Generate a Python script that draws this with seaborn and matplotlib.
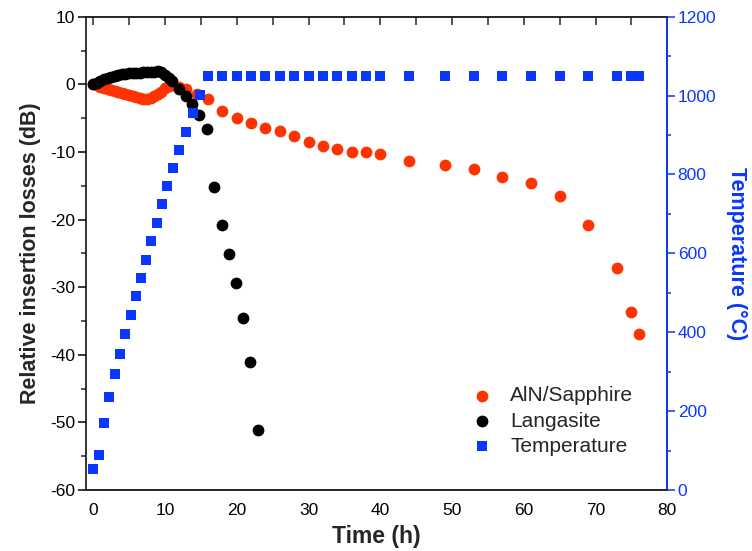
import numpy as np
import pandas as pd
import matplotlib
matplotlib.use('Agg')
import matplotlib.pyplot as plt
import seaborn as sns

# ---- data ----
aln_time = [0, 0.5, 1, 1.5, 2, 2.5, 3, 3.5, 4, 4.5, 5, 5.5, 6, 6.5, 7, 7.5,
            8, 8.5, 9, 9.5, 10, 10.5, 11, 12, 13, 14.4, 16, 18, 20, 22, 24,
            26, 28, 30, 32, 34, 36, 38, 40, 44, 49, 53, 57, 61, 65, 69, 73,
            75, 76]
aln_loss = [0, -0.15, -0.35, -0.55, -0.7, -0.85, -1.0, -1.1, -1.3, -1.45,
            -1.65, -1.8, -1.95, -2.05, -2.15, -2.2, -2.0, -1.75, -1.5, -1.1,
            -0.6, -0.2, -0.1, -0.45, -0.75, -1.45, -2.2, -3.95, -4.95, -5.75,
            -6.45, -6.95, -7.65, -8.5, -9.15, -9.6, -9.95, -10.05, -10.25,
            -11.35, -11.9, -12.5, -13.7, -14.55, -16.45, -20.8, -27.2, -33.7,
            -36.95]

lgs_time = [0, 0.5, 1, 1.5, 2, 2.5, 3, 3.5, 4, 4.5, 5, 5.5, 6, 6.5, 7, 7.5,
            8, 8.5, 9, 9.5, 10, 10.5, 11, 12, 12.9, 13.8, 14.8, 15.8, 16.9,
            17.9, 18.9, 19.9, 20.9, 21.9, 22.9]
lgs_loss = [0, 0.25, 0.5, 0.8, 1.0, 1.15, 1.3, 1.4, 1.5, 1.55, 1.6, 1.65,
            1.65, 1.7, 1.75, 1.75, 1.8, 1.85, 1.9, 1.75, 1.4, 1.0, 0.5, -0.7,
            -1.8, -2.95, -4.5, -6.6, -15.2, -20.8, -25.1, -29.4, -34.5, -41.0,
            -51.1]

temp_time = [0, 0.75, 1.5, 2.25, 3, 3.7, 4.5, 5.2, 5.9, 6.65, 7.4, 8.1, 8.85,
             9.6, 10.3, 11.1, 12, 12.9, 13.95, 14.9, 16, 18, 20, 22, 24, 26,
             28, 30, 32, 34, 36, 38, 40, 44, 49, 53, 57, 61, 65, 69, 73, 75,
             76]
temp_c = [54, 90, 171, 237, 293, 344, 395, 444, 491, 538, 584, 631, 678, 724,
          770, 817, 862, 908, 955, 1001, 1050, 1050, 1050, 1050, 1050, 1050,
          1050, 1050, 1050, 1050, 1050, 1050, 1050, 1050, 1050, 1050, 1050,
          1050, 1050, 1050, 1050, 1050, 1050]

RED = '#FF3300'
BLUE = '#0A37FF'

sns.set_style('white')
plt.rcParams['font.family'] = ['Liberation Sans', 'DejaVu Sans']
plt.rcParams['axes.linewidth'] = 1.1
plt.rcParams['axes.unicode_minus'] = False

aln_df = pd.DataFrame({'t': aln_time, 'v': aln_loss})
lgs_df = pd.DataFrame({'t': lgs_time, 'v': lgs_loss})
temp_df = pd.DataFrame({'t': temp_time, 'v': temp_c})

fig = plt.figure(figsize=(7.52, 5.51), dpi=100)
ax = fig.add_axes([0.1144, 0.1107, 0.7730, 0.8590])

sns.scatterplot(data=aln_df, x='t', y='v', ax=ax, color=RED, s=72,
                linewidth=0, marker='o', label='AlN/Sapphire', legend=False)
sns.scatterplot(data=lgs_df, x='t', y='v', ax=ax, color='black', s=72,
                linewidth=0, marker='o', label='Langasite', legend=False)

ax2 = ax.twinx()
sns.scatterplot(data=temp_df, x='t', y='v', ax=ax2, color=BLUE, s=52,
                linewidth=0, marker='s', label='Temperature', legend=False)

ax.set_xlim(-1, 80)
ax.set_ylim(-60, 10)
ax2.set_ylim(0, 1200)

ax.set_xticks(np.arange(0, 81, 10))
ax.set_xticks(np.arange(0, 81, 5), minor=True)
ax.set_yticks(np.arange(-60, 11, 10))
ax.set_yticks(np.arange(-60, 11, 5), minor=True)
ax2.set_yticks(np.arange(0, 1201, 200))
ax2.set_yticks(np.arange(0, 1201, 100), minor=True)

ax.tick_params(axis='both', which='major', direction='out', length=6,
               width=1.1, labelsize=12.5, colors='black')
ax.tick_params(axis='both', which='minor', direction='out', length=3.5,
               width=1.1)
ax.tick_params(axis='y', pad=2)
ax2.tick_params(axis='y', which='major', direction='out', length=5.5,
                width=1.1, labelsize=12.5, colors=BLUE, pad=2)
ax2.tick_params(axis='y', which='minor', direction='out', length=3,
                width=1.1, colors=BLUE)

# inward ticks on the top edge
top = ax.secondary_xaxis('top')
top.set_xticks(np.arange(0, 81, 5))
top.tick_params(direction='in', length=6, width=1.1, labelsize=0,
                labeltop=False)
top.spines['top'].set_visible(False)

for side in ['left', 'bottom', 'top']:
    ax.spines[side].set_color('black')
ax2.spines['right'].set_color(BLUE)
ax2.spines['right'].set_linewidth(1.3)
ax2.spines['left'].set_visible(False)

ax.set_xlabel('Time (h)', fontsize=16.5, fontweight='bold', labelpad=5)
ax.set_ylabel('Relative insertion losses (dB)', fontsize=15.5,
              fontweight='bold', labelpad=6)
ax2.set_ylabel('Temperature (°C)', fontsize=15.5, fontweight='bold',
               color=BLUE, rotation=270, labelpad=22)

h1, l1 = ax.get_legend_handles_labels()
h2, l2 = ax2.get_legend_handles_labels()
ax2.legend(h1 + h2, l1 + l2, loc='upper left', frameon=False, fontsize=15,
           bbox_to_anchor=(459 / 752, 1 - 376 / 551),
           bbox_transform=fig.transFigure, handletextpad=0.75,
           labelspacing=0.3, borderpad=0, handlelength=1.2,
           markerscale=1.0)

fig.savefig('out.png', dpi=100)
